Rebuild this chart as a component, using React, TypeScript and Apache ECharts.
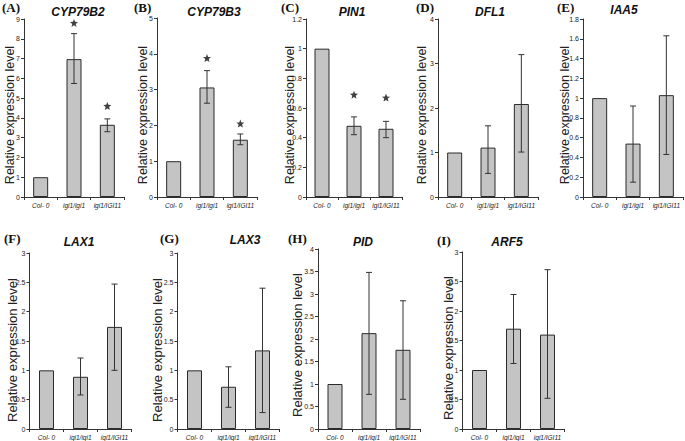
import React, { useEffect, useRef } from "react";
import * as echarts from "echarts";

const categories = ["Col- 0", "igi1/igi1", "igi1/IGI11"];

const cyp79b2Mean = [1, 6.97, 3.65];
const cyp79b2Low = [null, 5.74, 3.3];
const cyp79b2High = [null, 8.26, 3.95];
const cyp79b2Star = [null, 8.8, 4.6];

const cyp79b3Mean = [1, 3.06, 1.6];
const cyp79b3Low = [null, 2.62, 1.46];
const cyp79b3High = [null, 3.53, 1.76];
const cyp79b3Star = [null, 3.88, 2.05];

const pin1Mean = [1, 0.48, 0.46];
const pin1Low = [null, 0.42, 0.4];
const pin1High = [null, 0.54, 0.51];
const pin1Star = [null, 0.69, 0.67];

const dfl1Mean = [1, 1.11, 2.09];
const dfl1Low = [null, 0.53, 1.01];
const dfl1High = [null, 1.6, 3.2];

const iaa5Mean = [1, 0.54, 1.03];
const iaa5Low = [null, 0.15, 0.43];
const iaa5High = [null, 0.92, 1.63];

const lax1Mean = [1, 0.89, 1.74];
const lax1Low = [null, 0.58, 1.0];
const lax1High = [null, 1.21, 2.47];

const lax3Mean = [1, 0.72, 1.34];
const lax3Low = [null, 0.37, 0.28];
const lax3High = [null, 1.06, 2.4];

const pidMean = [1, 2.13, 1.76];
const pidLow = [null, 0.77, 0.66];
const pidHigh = [null, 3.48, 2.85];

const arf5Mean = [1, 1.7, 1.6];
const arf5Low = [null, 1.11, 0.52];
const arf5High = [null, 2.28, 2.7];

const yMax = [9, 5, 1.2, 4, 1.8, 3, 3, 4, 3];
const yInterval = [1, 1, 0.2, 1, 0.2, 0.5, 0.5, 0.5, 0.5];
const panelLabels = ["(A)", "(B)", "(C)", "(D)", "(E)", "(F)", "(G)", "(H)", "(I)"];
const geneNames = ["CYP79B2", "CYP79B3", "PIN1", "DFL1", "IAA5", "LAX1", "LAX3", "PID", "ARF5"];
const yAxisName = "Relative expression level";

const panels = [
  { mean: cyp79b2Mean, low: cyp79b2Low, high: cyp79b2High, star: cyp79b2Star },
  { mean: cyp79b3Mean, low: cyp79b3Low, high: cyp79b3High, star: cyp79b3Star },
  { mean: pin1Mean, low: pin1Low, high: pin1High, star: pin1Star },
  { mean: dfl1Mean, low: dfl1Low, high: dfl1High, star: null },
  { mean: iaa5Mean, low: iaa5Low, high: iaa5High, star: null },
  { mean: lax1Mean, low: lax1Low, high: lax1High, star: null },
  { mean: lax3Mean, low: lax3Low, high: lax3High, star: null },
  { mean: pidMean, low: pidLow, high: pidHigh, star: null },
  { mean: arf5Mean, low: arf5Low, high: arf5High, star: null },
];

// layout (pixels)
const layouts = [
  { left: 24, top: 19, width: 100, height: 178, lx: 2, ly: 1, tx: 78, ty: 12, nx: 10, ny: 115, ns: 12.5 },
  { left: 157, top: 18, width: 100, height: 179, lx: 134, ly: 1, tx: 214, ty: 12, nx: 143, ny: 115, ns: 12.5 },
  { left: 306, top: 19, width: 96, height: 178, lx: 281, ly: 1, tx: 352, ty: 12, nx: 290, ny: 115, ns: 12.5 },
  { left: 438, top: 19, width: 100, height: 178, lx: 416, ly: 1, tx: 490, ty: 12, nx: 422, ny: 115, ns: 12.5 },
  { left: 583, top: 19, width: 100, height: 178, lx: 557, ly: 1, tx: 624, ty: 10, nx: 565, ny: 115, ns: 12.5 },
  { left: 29.5, top: 253, width: 102, height: 177, lx: 4, ly: 232, tx: 79, ty: 242, nx: 12, ny: 350, ns: 13 },
  { left: 177.5, top: 253, width: 102, height: 177, lx: 160, ly: 232, tx: 245, ty: 240, nx: 157, ny: 350, ns: 13 },
  { left: 318, top: 249, width: 102, height: 181, lx: 288, ly: 232, tx: 363, ty: 242, nx: 297, ny: 345, ns: 13 },
  { left: 462.5, top: 252, width: 102, height: 178, lx: 437, ly: 234, tx: 507, ty: 242, nx: 448, ny: 348, ns: 13 },
];

const SANS = "'Liberation Sans', Arial, sans-serif";
const SERIF = "'Liberation Serif', 'Times New Roman', serif";
const STAR_PATH =
  "path://M50,0 L63,33 L98,35 L71,58 L80,93 L50,74 L20,93 L29,58 L2,35 L37,33 Z";

function buildOption() {
  const grid: any[] = [];
  const xAxis: any[] = [];
  const yAxis: any[] = [];
  const series: any[] = [];
  const graphic: any[] = [];

  panels.forEach((p, i) => {
    const L = layouts[i];
    grid.push({ left: L.left, top: L.top, width: L.width, height: L.height, containLabel: false });
    xAxis.push({
      type: "category",
      gridIndex: i,
      data: categories,
      axisLine: { lineStyle: { color: "#333", width: 1 } },
      axisTick: { show: true, length: 3, lineStyle: { color: "#333" } },
      axisLabel: {
        interval: 0,
        fontSize: 6.5,
        fontStyle: "italic",
        fontFamily: SANS,
        color: "#222",
        margin: 5,
      },
    });
    yAxis.push({
      type: "value",
      gridIndex: i,
      min: 0,
      max: yMax[i],
      interval: yInterval[i],
      splitLine: { show: false },
      axisLine: { show: true, lineStyle: { color: "#333", width: 1 } },
      axisTick: { show: true, length: 3, lineStyle: { color: "#333" } },
      axisLabel: { fontSize: 7, fontFamily: SANS, color: "#222", margin: 4 },
    });
    series.push({
      type: "bar",
      xAxisIndex: i,
      yAxisIndex: i,
      data: p.mean,
      barWidth: 15,
      itemStyle: { color: "#c4c4c4", borderColor: "#2a2a2a", borderWidth: 1 },
      silent: true,
    });
    const errData: any[] = [];
    p.mean.forEach((_, k) => {
      if (p.low[k] != null && p.high[k] != null) errData.push([k, p.low[k], p.high[k]]);
    });
    series.push({
      type: "custom",
      xAxisIndex: i,
      yAxisIndex: i,
      data: errData,
      z: 5,
      renderItem: (params: any, api: any) => {
        const c = api.value(0);
        const lo = api.coord([c, api.value(1)]);
        const hi = api.coord([c, api.value(2)]);
        const cap = 3;
        const st = { stroke: "#333", lineWidth: 1 };
        return {
          type: "group",
          children: [
            { type: "line", shape: { x1: lo[0], y1: lo[1], x2: hi[0], y2: hi[1] }, style: st },
            { type: "line", shape: { x1: lo[0] - cap, y1: lo[1], x2: lo[0] + cap, y2: lo[1] }, style: st },
            { type: "line", shape: { x1: hi[0] - cap, y1: hi[1], x2: hi[0] + cap, y2: hi[1] }, style: st },
          ],
        };
      },
    });
    if (p.star) {
      const starData: any[] = [];
      p.star.forEach((v, k) => {
        if (v != null) starData.push([k, v]);
      });
      series.push({
        type: "scatter",
        xAxisIndex: i,
        yAxisIndex: i,
        data: starData,
        symbol: STAR_PATH,
        symbolSize: 8,
        itemStyle: { color: "#111" },
        silent: true,
      });
    }
    graphic.push({
      type: "text",
      left: L.lx,
      top: L.ly,
      style: { text: panelLabels[i], font: `bold 13px ${SERIF}`, fill: "#111" },
    });
    graphic.push({
      type: "text",
      x: L.tx,
      y: L.ty,
      style: {
        text: geneNames[i],
        font: `italic bold 12px ${SANS}`,
        fill: "#111",
        align: "center",
        verticalAlign: "middle",
      },
    });
    graphic.push({
      type: "text",
      x: L.nx,
      y: L.ny,
      rotation: Math.PI / 2,
      style: {
        text: yAxisName,
        font: `${L.ns}px ${SANS}`,
        fill: "#222",
        align: "center",
        verticalAlign: "middle",
      },
    });
  });

  return {
    animation: false,
    backgroundColor: "#ffffff",
    grid,
    xAxis,
    yAxis,
    series,
    graphic,
  };
}

export default function App() {
  const ref = useRef<HTMLDivElement>(null);
  useEffect(() => {
    if (!ref.current) return;
    const chart = echarts.init(ref.current, null, { renderer: "svg" });
    chart.setOption(buildOption() as any);
    return () => chart.dispose();
  }, []);
  return (
    <div
      ref={ref}
      style={{ position: "absolute", left: 0, top: 0, width: 685, height: 441, background: "#fff" }}
    />
  );
}
